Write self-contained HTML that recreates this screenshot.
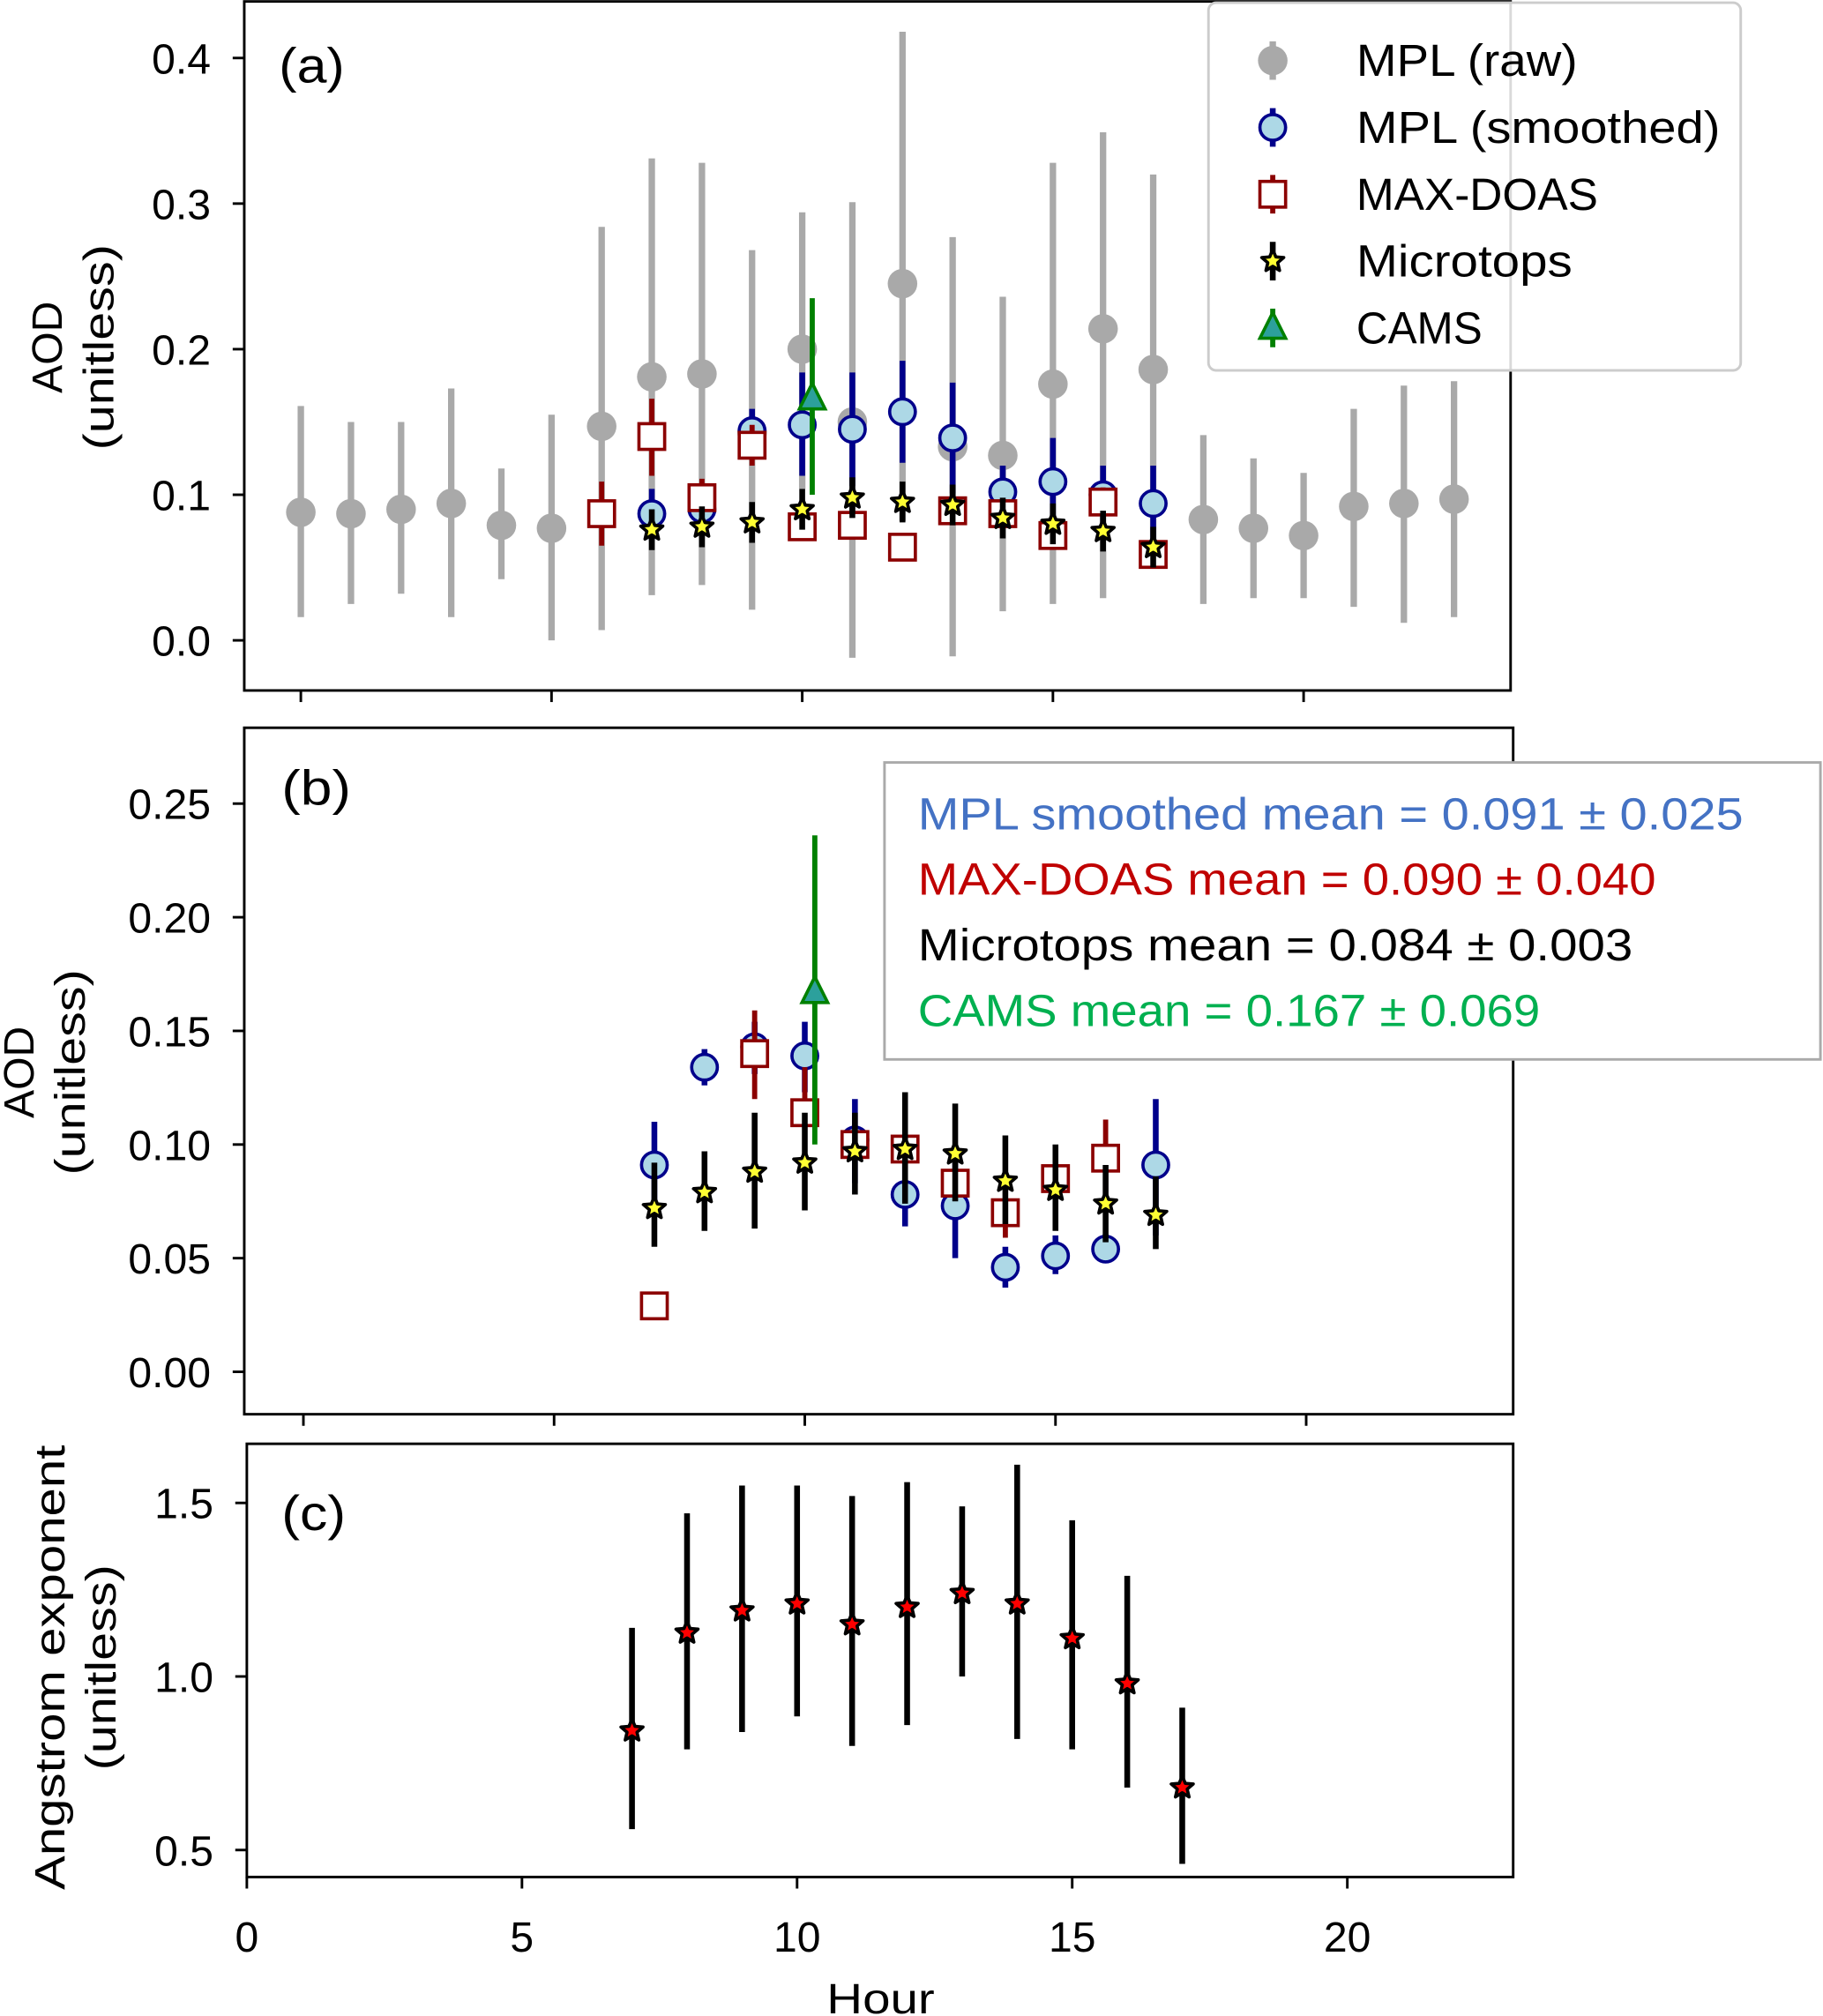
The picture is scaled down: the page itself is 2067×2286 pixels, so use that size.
<!DOCTYPE html>
<html><head><meta charset="utf-8">
<style>
html,body{margin:0;padding:0;background:#fff;}
svg{display:block;font-family:"Liberation Sans","DejaVu Sans",sans-serif;}
</style></head>
<body>
<svg id="fig" width="2067" height="2286" viewBox="0 0 1418 1568" xmlns="http://www.w3.org/2000/svg">
</svg>
<script>
// ---------- Panel (a) data ----------
const rawHours = [0,1,2,3,4,5,6,7,8,9,10,11,12,13,14,15,16,17,18,19,20,21,22,23];
const rawVal = [0.088,0.087,0.090,0.094,0.079,0.077,0.147,0.181,0.183,0.143,0.200,0.150,0.245,0.133,0.127,0.176,0.214,0.186,0.083,0.077,0.072,0.092,0.094,0.097];
const rawLo = [0.016,0.025,0.032,0.016,0.042,0.000,0.007,0.031,0.038,0.021,0.104,-0.012,0.082,-0.011,0.020,0.025,0.029,0.051,0.025,0.029,0.029,0.023,0.012,0.016];
const rawHi = [0.161,0.150,0.150,0.173,0.118,0.155,0.284,0.331,0.328,0.268,0.294,0.301,0.418,0.277,0.236,0.328,0.349,0.320,0.141,0.125,0.115,0.159,0.175,0.178];

const smaHours = [7,8,9,10,11,12,13,14,15,16,17];
const smaVal = [0.087,0.090,0.144,0.148,0.145,0.157,0.139,0.102,0.109,0.100,0.094];
const smaLo = [0.069,0.080,0.129,0.113,0.106,0.122,0.101,0.084,0.078,0.080,0.069];
const smaHi = [0.104,0.100,0.159,0.184,0.184,0.192,0.177,0.120,0.139,0.120,0.120];

const mdaHours = [6,7,8,9,10,11,12,13,14,15,16,17];
const mdaVal = [0.087,0.140,0.098,0.134,0.078,0.079,0.064,0.089,0.087,0.072,0.095,0.059];
const mdaLo = [0.065,0.113,0.085,0.120,0.070,0.071,0.056,0.079,0.078,0.064,0.085,0.052];
const mdaHi = [0.109,0.166,0.111,0.148,0.086,0.087,0.072,0.099,0.096,0.080,0.105,0.066];

const mtaHours = [7,8,9,10,11,12,13,14,15,16,17];
const mtaVal = [0.076,0.078,0.081,0.090,0.098,0.095,0.093,0.084,0.080,0.075,0.064];
const mtaLo = [0.062,0.064,0.067,0.076,0.084,0.081,0.079,0.070,0.066,0.061,0.050];
const mtaHi = [0.090,0.092,0.095,0.104,0.112,0.109,0.107,0.098,0.094,0.089,0.078];

const camsHour = [10.2];
const camsVal = [0.166];
const camsLo = [0.100];
const camsHi = [0.235];

// ---------- Panel (b) data ----------
const smbHours = [7,8,9,10,11,12,13,14,15,16,17];
const smbVal = [0.091,0.134,0.143,0.139,0.102,0.078,0.073,0.046,0.051,0.054,0.091];
const smbLo = [0.072,0.126,0.131,0.123,0.083,0.064,0.050,0.037,0.043,0.048,0.060];
const smbHi = [0.110,0.142,0.154,0.154,0.120,0.092,0.092,0.055,0.060,0.060,0.120];

const mdbHours = [7,9,10,11,12,13,14,15,16];
const mdbVal = [0.029,0.140,0.114,0.100,0.098,0.083,0.070,0.085,0.094];
const mdbLo = [0.027,0.120,0.094,0.094,0.091,0.076,0.059,0.075,0.078];
const mdbHi = [0.031,0.159,0.134,0.106,0.105,0.090,0.080,0.095,0.111];

const mtbHours = [7,8,9,10,11,12,13,14,15,16,17];
const mtbVal = [0.072,0.079,0.088,0.092,0.097,0.098,0.096,0.084,0.080,0.074,0.069];
const mtbLo = [0.055,0.062,0.063,0.071,0.078,0.074,0.075,0.065,0.062,0.057,0.054];
const mtbHi = [0.092,0.097,0.114,0.114,0.114,0.123,0.118,0.104,0.100,0.091,0.086];

const camsbHour = [10.2];
const camsbVal = [0.167];
const camsbLo = [0.100];
const camsbHi = [0.236];

// ---------- Panel (c) data ----------
const angHours = [7,8,9,10,11,12,13,14,15,16,17];
const angVal = [0.844,1.126,1.19,1.21,1.15,1.20,1.24,1.21,1.11,0.98,0.68];
const angLo = [0.56,0.79,0.84,0.885,0.80,0.86,1.00,0.82,0.79,0.68,0.46];
const angHi = [1.14,1.47,1.55,1.55,1.52,1.56,1.49,1.61,1.45,1.29,0.91];

const ticksA = [0.0,0.1,0.2,0.3,0.4];
const tickLabelsA = ["0.0","0.1","0.2","0.3","0.4"];
const ticksB = [0,0.05,0.10,0.15,0.20,0.25];
const tickLabelsB = ["0.00","0.05","0.10","0.15","0.20","0.25"];
const ticksC = [0.5,1.0,1.5];
const tickLabelsC = ["0.5","1.0","1.5"];
const ticksX = [0,5,10,15,20];
const tickLabelsX = ["0","5","10","15","20"];

const NS = "http://www.w3.org/2000/svg";
const svg = document.getElementById('fig');
function mk(tag, attrs, parent){
  const e = document.createElementNS(NS, tag);
  for (const k in attrs) e.setAttribute(k, attrs[k]);
  (parent||svg).appendChild(e);
  return e;
}
const xA = h => 234 + 39*h;
const yA = v => 498 - v*1132.5;
const xB = h => 236 + 39*h;
const yB = v => 1067 - v*1768;
const xC = h => 192 + 42.8*h;
const yC = v => 1304 - (v-1.0)*270;

function group(name){
  const g = mk('g', {});
  
  
  return g;
}
function starPath(cx, cy, R){
  let d = '';
  for (let i=0;i<10;i++){
    const r = i%2===0 ? R : R*0.45;
    const a = -Math.PI/2 + i*Math.PI/5;
    d += (i===0?'M':'L') + (cx + r*Math.cos(a)).toFixed(2) + ' ' + (cy + r*Math.sin(a)).toFixed(2);
  }
  return d + 'Z';
}
function marker(g, type, x, y){
  let m;
  if (type==='gray') m = mk('circle',{cx:x,cy:y,r:11.5,fill:'#a9a9a9'},g);
  else if (type==='blue') m = mk('circle',{cx:x,cy:y,r:10,fill:'#add8e6',stroke:'#00008b','stroke-width':2.5},g);
  else if (type==='red') m = mk('rect',{x:x-10,y:y-10,width:20,height:20,fill:'#fff',stroke:'#8b0000','stroke-width':2.5},g);
  else if (type==='star') m = mk('path',{d:starPath(x,y,9),fill:'#ffff33',stroke:'#000','stroke-width':2.5,'stroke-linejoin':'round'},g);
  else if (type==='redstar') m = mk('path',{d:starPath(x,y,9),fill:'#ff0000',stroke:'#000','stroke-width':2.5,'stroke-linejoin':'round'},g);
  else if (type==='tri') m = mk('path',{d:`M${x} ${y-12}L${x+10} ${y+8}L${x-10} ${y+8}Z`,fill:'#2ca09c',stroke:'#008000','stroke-width':2.5},g);
  return m;
}
const errColor = {gray:'#a9a9a9',blue:'#00008b',red:'#8b0000',star:'#000',redstar:'#000',tri:'#008000'};
const errW = {gray:5,blue:4.5,red:4,star:4.5,redstar:4.5,tri:4};
function series(name, type, hours, vals, lo, hi, xf, yf){
  const g = group(name);
  for (let i=0;i<hours.length;i++){
    const l = mk('line',{x1:xf(hours[i]),x2:xf(hours[i]),y1:yf(lo[i]),y2:yf(hi[i]),stroke:errColor[type],'stroke-width':errW[type]},g);
    
    
  }
  for (let i=0;i<hours.length;i++){
    const m = marker(g, type, xf(hours[i]), yf(vals[i]));
    
    
  }
}
function axes(name, x0, y0, x1, y1, yticks, ylabels, yf, xticks, xlabels, xf, showXLabels){
  const g = group(name);
  for (let i=0;i<yticks.length;i++){
    const y = yf(yticks[i]);
    mk('line',{x1:x0-9,x2:x0,y1:y,y2:y,stroke:'#000','stroke-width':2},g);
    const t = mk('text',{x:x0-26,y:y+12,'text-anchor':'end','font-size':33,fill:'#000'},g);
    t.textContent = ylabels[i];
    
    
  }
  for (let i=0;i<xticks.length;i++){
    const x = xf(xticks[i]);
    mk('line',{x1:x,x2:x,y1:y1,y2:y1+9,stroke:'#000','stroke-width':2},g);
    if (showXLabels){
      const t = mk('text',{x:x,y:y1+58,'text-anchor':'middle','font-size':33,fill:'#000'},g);
      t.textContent = xlabels[i];
      
      
    }
  }
  mk('rect',{x:x0,y:y0,width:x1-x0,height:y1-y0,fill:'none',stroke:'#000','stroke-width':2},g);
}
function text(name, x, y, s, size, color, anchor, rot, len){
  const t = mk('text',{x:x,y:y,'font-size':size,fill:color||'#000','text-anchor':anchor||'start'});
  if (rot) t.setAttribute('transform', `rotate(-90 ${x} ${y})`);
  if (len){ t.setAttribute('textLength', len); t.setAttribute('lengthAdjust','spacingAndGlyphs'); }
  t.textContent = s;
  
  
  return t;
}

// Panel a
axes('panel-a-axes',190,1,1175,537,ticksA,tickLabelsA,yA,ticksX,tickLabelsX,xA,false);
series('mpl-raw-a','gray',rawHours,rawVal,rawLo,rawHi,xA,yA);
series('mpl-smoothed-a','blue',smaHours,smaVal,smaLo,smaHi,xA,yA);
series('max-doas-a','red',mdaHours,mdaVal,mdaLo,mdaHi,xA,yA);
series('microtops-a','star',mtaHours,mtaVal,mtaLo,mtaHi,xA,yA);
series('cams-a','tri',camsHour,camsVal,camsLo,camsHi,xA,yA);
text('panel-a-label',217,64,'(a)',38,'#000','start',false,51);
text('y-axis-title-a',48,270,'AOD',33,'#000','middle',true);
text('y-axis-title-a-unit',88,270,'(unitless)',33,'#000','middle',true,160);

// legend
const lg = group('legend');
mk('rect',{x:940,y:2,width:414,height:286,rx:6,fill:'#fff','fill-opacity':0.85,stroke:'#ccc','stroke-width':2},lg);
const legTypes = ['gray','blue','red','star','tri'];
const legNames = ['MPL (raw)','MPL (smoothed)','MAX-DOAS','Microtops','CAMS'];
const legLens = [172,283,188,168,98];
for (let i=0;i<5;i++){
  const y = 47 + 52*i;
  const e = group('legend-entry');
  
  lg.appendChild(e);
  mk('line',{x1:990,x2:990,y1:y-15,y2:y+15,stroke:errColor[legTypes[i]],'stroke-width':errW[legTypes[i]]},e);
  marker(e, legTypes[i], 990, y);
  const t = mk('text',{x:1055,y:y+12,'font-size':35,fill:'#000',textLength:legLens[i],lengthAdjust:'spacingAndGlyphs'},e);
  t.textContent = legNames[i];
}

// Panel b
axes('panel-b-axes',190,566,1177,1100,ticksB,tickLabelsB,yB,ticksX,tickLabelsX,xB,false);
series('mpl-smoothed-b','blue',smbHours,smbVal,smbLo,smbHi,xB,yB);
series('max-doas-b','red',mdbHours,mdbVal,mdbLo,mdbHi,xB,yB);
series('microtops-b','star',mtbHours,mtbVal,mtbLo,mtbHi,xB,yB);
series('cams-b','tri',camsbHour,camsbVal,camsbLo,camsbHi,xB,yB);
text('panel-b-label',219,626,'(b)',38,'#000','start',false,54);
text('y-axis-title-b',26,834,'AOD',33,'#000','middle',true);
text('y-axis-title-b-unit',66,834,'(unitless)',33,'#000','middle',true,160);
const ab = group('stats-box');
mk('rect',{x:688,y:593,width:728,height:231,fill:'#fff',stroke:'#aaa','stroke-width':2},ab);
text('mpl-mean-text',714,645,'MPL smoothed mean = 0.091 ± 0.025',35,'#4472c4','start',false,642);
text('maxdoas-mean-text',714,696,'MAX-DOAS mean = 0.090 ± 0.040',35,'#c00000','start',false,574);
text('microtops-mean-text',714,747,'Microtops mean = 0.084 ± 0.003',35,'#000','start',false,556);
text('cams-mean-text',714,798,'CAMS mean = 0.167 ± 0.069',35,'#00b050','start',false,484);

// Panel c
axes('panel-c-axes',192,1123,1177,1460,ticksC,tickLabelsC,yC,ticksX,tickLabelsX,xC,true);
series('angstrom-c','redstar',angHours,angVal,angLo,angHi,xC,yC);
text('panel-c-label',219,1190,'(c)',38,'#000','start',false,50);
text('y-axis-title-c',50,1297,'Angstrom exponent',33,'#000','middle',true,346);
text('y-axis-title-c-unit',90,1297,'(unitless)',33,'#000','middle',true,160);
text('x-axis-title',685,1566,'Hour',33,'#000','middle',false,84);
</script>
</body></html>
